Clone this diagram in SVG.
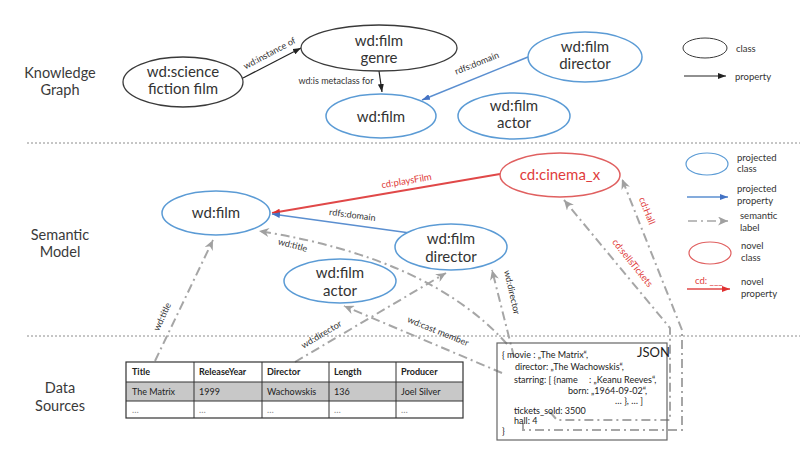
<svg xmlns="http://www.w3.org/2000/svg" width="800" height="461" viewBox="0 0 800 461">
<style>
text{font-family:Lato,"Open Sans","Liberation Sans",sans-serif;fill:#222}
.sec{font-size:14.5px;text-anchor:middle;fill:#3a3a3a}
.nd{font-size:15px;text-anchor:middle;fill:#333}
.kg{fill:#fff;stroke:#3a3a3a;stroke-width:1.3}
.pj{fill:#fff;stroke:#5b9bd5;stroke-width:1.5}
.nv{fill:#fff;stroke:#e06060;stroke-width:1.5}
.lbl{font-size:9px;text-anchor:middle;fill:#333}
.rl{font-size:9.5px;text-anchor:middle;fill:#e03c3c}
.lg{font-size:9.5px;fill:#333}
.sep{stroke:#8c8c8c;stroke-width:1;stroke-dasharray:2 2}
.blk{stroke:#222;stroke-width:1.2;fill:none}
.blu{stroke:#5b8fd0;stroke-width:1.5;fill:none}
.red{stroke:#e04848;stroke-width:1.8;fill:none}
.gry{stroke:#a6a6a6;stroke-width:2;fill:none;stroke-dasharray:9 4 2 4}
.tb{font-size:9px}
.tbh{font-size:9px;font-weight:bold}
.js{font-size:9px}
</style>
<defs>
<marker id="aK" markerUnits="userSpaceOnUse" markerWidth="8" markerHeight="6" refX="8" refY="3" orient="auto"><path d="M0,0 L8,3 L0,6 z" fill="#222"/></marker>
<marker id="aB" markerUnits="userSpaceOnUse" markerWidth="8" markerHeight="6" refX="8" refY="3" orient="auto"><path d="M0,0 L8,3 L0,6 z" fill="#4472c4"/></marker>
<marker id="aR" markerUnits="userSpaceOnUse" markerWidth="8" markerHeight="6" refX="8" refY="3" orient="auto"><path d="M0,0 L8,3 L0,6 z" fill="#e03030"/></marker>
<marker id="aG" markerUnits="userSpaceOnUse" markerWidth="10" markerHeight="9" refX="10" refY="4.5" orient="auto"><path d="M0,0 L10,4.5 L0,9 L3,4.5 z" fill="#a0a0a0"/></marker>
</defs>
<rect width="800" height="461" fill="#fff"/>

<g id="sections">
<text class="sec" x="60" y="78">Knowledge</text>
<text class="sec" x="60" y="95">Graph</text>
<text class="sec" x="60" y="240">Semantic</text>
<text class="sec" x="60" y="257">Model</text>
<text class="sec" x="60" y="393">Data</text>
<text class="sec" x="60" y="411">Sources</text>
<line class="sep" x1="27" y1="143" x2="800" y2="143"/>
<line class="sep" x1="27" y1="336" x2="800" y2="336"/>
</g>

<g id="connectors">
<path class="blk" d="M243 78 L301 48" marker-end="url(#aK)"/>
<text class="lbl" transform="translate(271,56) rotate(-28)">wd:instance of</text>
<path class="blk" d="M379 71 L382 92" marker-end="url(#aK)"/>
<text class="lbl" x="336" y="84">wd:is metaclass for</text>
<path class="blu" d="M528 57 L422 100" marker-end="url(#aB)"/>
<text class="lbl" transform="translate(478,66) rotate(-22)">rdfs:domain</text>

<path class="red" d="M500 174 L272 213" marker-end="url(#aR)"/>
<text class="rl" transform="translate(407,184) rotate(-9.5)">cd:playsFilm</text>
<path class="blu" d="M410 233 L272 214" marker-end="url(#aB)"/>
<text class="lbl" transform="translate(352,218) rotate(7.5)">rdfs:domain</text>

<path class="gry" d="M155 361 L213 240" marker-end="url(#aG)"/>
<text class="lbl" transform="translate(165,318) rotate(-65)">wd:title</text>
<path class="gry" d="M295 362 L446 273" marker-end="url(#aG)"/>
<text class="lbl" transform="translate(323,337) rotate(-31)">wd:director</text>
<path class="gry" d="M507 344 Q430 258 259 231" marker-end="url(#aG)"/>
<text class="lbl" transform="translate(292,248) rotate(15)">wd:title</text>
<path class="gry" d="M502 373 L344 306" marker-end="url(#aG)"/>
<text class="lbl" transform="translate(437,334) rotate(22)">wd:cast member</text>
<path class="gry" d="M514 357 L492 270" marker-end="url(#aG)"/>
<text class="lbl" transform="translate(509,293) rotate(77)">wd:director</text>
<path class="gry" d="M550 412 L557 420 L670 420 L670 328 L564 200" marker-end="url(#aG)"/>
<text class="rl" transform="translate(630,265) rotate(51)">cd:sellsTickets</text>
<path class="gry" d="M523 423 L523 430 L682 430 L682 330 L622 179" marker-end="url(#aG)"/>
<text class="rl" transform="translate(644,212) rotate(68)">cd:Hall</text>
</g>

<g id="kg-scifi"><ellipse class="kg" cx="183" cy="82" rx="60" ry="25"/><text class="nd" x="183" y="77">wd:science</text><text class="nd" x="183" y="94">fiction film</text></g>
<g id="kg-genre"><ellipse class="kg" cx="379" cy="48" rx="78" ry="23"/><text class="nd" x="379" y="46">wd:film</text><text class="nd" x="379" y="63">genre</text></g>
<g id="kg-film"><ellipse class="pj" cx="381" cy="116" rx="55" ry="22"/><text class="nd" x="381" y="122">wd:film</text></g>
<g id="kg-director"><ellipse class="pj" cx="585" cy="57" rx="57" ry="25"/><text class="nd" x="585" y="52">wd:film</text><text class="nd" x="585" y="69">director</text></g>
<g id="kg-actor"><ellipse class="pj" cx="514" cy="116" rx="56" ry="23"/><text class="nd" x="514" y="111">wd:film</text><text class="nd" x="514" y="128">actor</text></g>

<g id="sm-film"><ellipse class="pj" cx="216" cy="213" rx="54" ry="22"/><text class="nd" x="216" y="218">wd:film</text></g>
<g id="sm-cinema"><ellipse class="nv" cx="560" cy="175" rx="60" ry="22"/><text class="nd" x="560" y="180" style="fill:#e03c3c">cd:cinema_x</text></g>
<g id="sm-director"><ellipse class="pj" cx="451" cy="247" rx="56" ry="23"/><text class="nd" x="451" y="244">wd:film</text><text class="nd" x="451" y="262">director</text></g>
<g id="sm-actor"><ellipse class="pj" cx="340" cy="281" rx="56" ry="22"/><text class="nd" x="340" y="278">wd:film</text><text class="nd" x="340" y="296">actor</text></g>

<g id="legend">
<ellipse class="kg" cx="705" cy="48" rx="22" ry="10" style="stroke-width:1"/>
<text class="lg" x="736" y="52">class</text>
<path class="blk" d="M684 76 L726 76" marker-end="url(#aK)"/>
<text class="lg" x="735" y="80">property</text>
<ellipse class="pj" cx="707" cy="164" rx="21" ry="11" style="stroke-width:1.2"/>
<text class="lg" x="737" y="161">projected</text>
<text class="lg" x="737" y="172">class</text>
<path class="blu" d="M687 197 L728 197" marker-end="url(#aB)"/>
<text class="lg" x="737" y="192">projected</text>
<text class="lg" x="737" y="204">property</text>
<path class="gry" d="M688 221 L728 221" marker-end="url(#aG)" style="stroke-width:1.5"/>
<text class="lg" x="740" y="219">semantic</text>
<text class="lg" x="740" y="231">label</text>
<ellipse class="nv" cx="710" cy="253" rx="21" ry="11" style="stroke-width:1.2"/>
<text class="lg" x="741" y="249">novel</text>
<text class="lg" x="741" y="261">class</text>
<text class="lg" x="695" y="284" style="fill:#e03c3c">cd: ___</text>
<path class="red" d="M687 289 L730 289" marker-end="url(#aR)" style="stroke-width:1.3"/>
<text class="lg" x="741" y="285">novel</text>
<text class="lg" x="741" y="297">property</text>
</g>

<g id="table">
<rect x="126" y="382" width="337" height="19" fill="#c8c8c8"/>
<rect x="126" y="362" width="337" height="56" fill="none" stroke="#333" stroke-width="1.2"/>
<path d="M126 382 H463 M126 401 H463 M194 362 V418 M262 362 V418 M329 362 V418 M396 362 V418" stroke="#333" stroke-width="1" fill="none"/>
<text class="tbh" x="132" y="375">Title</text>
<text class="tbh" x="199" y="375">ReleaseYear</text>
<text class="tbh" x="267" y="375">Director</text>
<text class="tbh" x="334" y="375">Length</text>
<text class="tbh" x="401" y="375">Producer</text>
<text class="tb" x="132" y="395">The Matrix</text>
<text class="tb" x="199" y="395">1999</text>
<text class="tb" x="267" y="395">Wachowskis</text>
<text class="tb" x="334" y="395">136</text>
<text class="tb" x="401" y="395">Joel Silver</text>
<text class="tb" x="132" y="413" style="fill:#888">…</text>
<text class="tb" x="199" y="413" style="fill:#888">…</text>
<text class="tb" x="267" y="413" style="fill:#888">…</text>
<text class="tb" x="334" y="413" style="fill:#888">…</text>
<text class="tb" x="401" y="413" style="fill:#888">…</text>
</g>

<g id="json">
<rect x="497" y="343" width="170" height="97" fill="none" stroke="#666" stroke-width="1.2"/>
<text x="637" y="357" style="font-size:13px">JSON</text>
<text class="js" x="502" y="358">{ movie  : „The Matrix“,</text>
<text class="js" x="515" y="370">director: „The Wachowskis“,</text>
<text class="js" x="514" y="383">starring: [ {name</text>
<text class="js" x="589" y="383">: „Keanu Reeves“,</text>
<text class="js" x="568" y="394">born: „1964-09-02“,</text>
<text class="js" x="643" y="404" text-anchor="end">… }, … ]</text>
<text class="js" x="514" y="414">tickets_sold: 3500</text>
<text class="js" x="514" y="424">hall: 4</text>
<text class="js" x="502" y="434">}</text>
</g>
</svg>
